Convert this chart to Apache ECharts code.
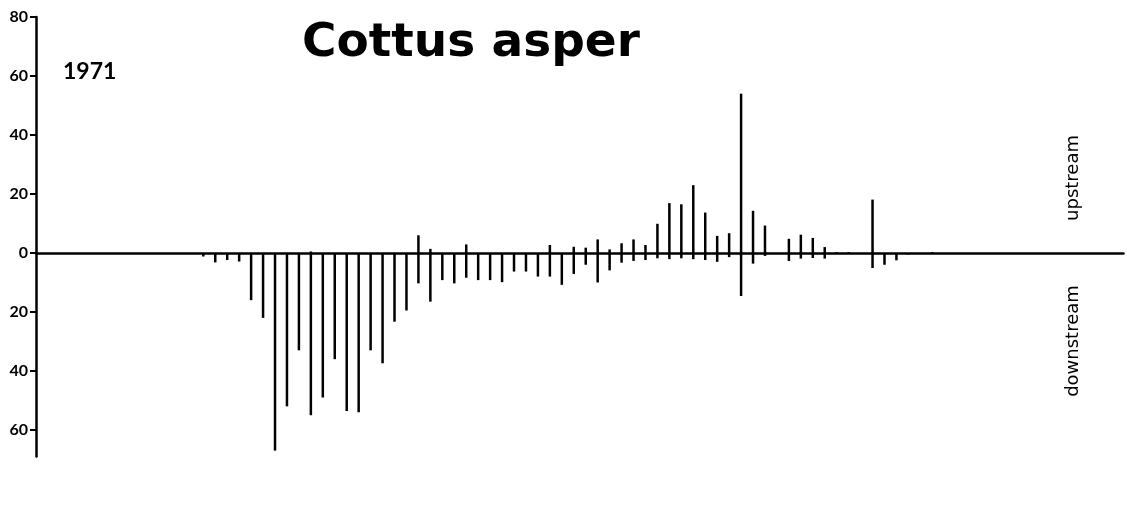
<!DOCTYPE html>
<html>
<head>
<meta charset="utf-8">
<script src="https://cdn.jsdelivr.net/npm/echarts@6/dist/echarts.min.js"></script>
<style>
html,body{margin:0;padding:0;background:#fff;}
#chart{width:1127px;height:513px;}
</style>
</head>
<body>
<div id="chart"></div>
<script>
// Station index (category) along the stream; 14 empty stations precede the first sampled one
var stations = ['1','2','3','4','5','6','7','8','9','10','11','12','13','14','15','16','17','18','19','20',
'21','22','23','24','25','26','27','28','29','30','31','32','33','34','35','36','37','38','39','40',
'41','42','43','44','45','46','47','48','49','50','51','52','53','54','55','56','57','58','59','60',
'61','62','63','64','65','66','67','68','69','70','71','72','73','74','75','76','77','78','79','80',
'81','82','83','84','85','86','87','88','89','90','91','92'];

// Upstream movement counts (positive)
var upstream = [null,null,null,null,null,null,null,null,null,null,null,null,null,null,
0,0,0,0,0,0,0,0,0,0.5,0,0,0,0,0,0,0,0,6,1.4,0,0,2.9,0,0,0,0,0,0,2.7,0,2.1,1.8,
4.6,1.2,3.3,4.6,2.7,9.9,16.9,16.5,23,13.7,5.8,6.7,54,14.3,9.3,0,4.8,6.2,5.1,2,
0.3,0.3,0,18.1,0,0,0,0,0.3,0,0,0];

// Downstream movement counts (plotted below zero)
var downstream = [null,null,null,null,null,null,null,null,null,null,null,null,null,null,
1.2,3.2,2.4,2.9,16,22,67,52,33,55,49,36,53.6,54,33,37.4,23.3,19.5,10.3,16.5,9.2,10.3,8.4,9.2,9.2,9.9,6.3,6.3,8,8,10.8,7.1,4,
10,5.9,3.3,2.7,2.4,1.8,2.1,1.8,2.1,2.4,3,1.4,14.6,3.6,1,0,2.7,1.9,1.7,1.9,
0.3,0.3,0,5.1,4,2.5,0.5,0.3,0,0.3,0,0.3];

var yTicks = [-60,-40,-20,0,20,40,60,80];

var chart = echarts.init(document.getElementById('chart'));
var fam = 'Lato, "DejaVu Sans", sans-serif';
chart.setOption({
  animation:false,
  backgroundColor:'#fff',
  grid:{left:36, right:3.5, top:17, bottom:56.5},
  title:{
    text:'Cottus asper', left:297, top:15,
    textStyle:{fontFamily:'"DejaVu Sans", sans-serif', fontWeight:'bold', fontSize:47, color:'#000'}
  },
  xAxis:{
    type:'category', data:stations, boundaryGap:false,
    axisLine:{show:true, onZero:true, lineStyle:{color:'#000', width:2.5}},
    axisTick:{show:false}, axisLabel:{show:false}, splitLine:{show:false}
  },
  yAxis:{
    type:'value', min:-69, max:80,
    axisLine:{show:true, lineStyle:{color:'#000', width:2.5}},
    axisTick:{show:true, length:6, customValues:yTicks, lineStyle:{color:'#000', width:2}},
    axisLabel:{show:true, customValues:yTicks, margin:8, formatter:function(v){return String(Math.abs(v));}, color:'#000',
      fontFamily:fam, fontWeight:'bold', fontSize:16},
    splitLine:{show:false}
  },
  series:[
    {name:'upstream', type:'bar', data:upstream, barWidth:2.5, barGap:'-100%', itemStyle:{color:'#000'}},
    {name:'downstream', type:'bar', data:downstream.map(function(v){return v==null?null:-v;}), barWidth:2.5, barGap:'-100%', itemStyle:{color:'#000'}}
  ],
  graphic:[
    {type:'text', left:63, top:60, style:{text:'1971', font:'bold 23px ' + fam, fill:'#000'}},
    {type:'text', x:1073, y:178, rotation:Math.PI/2, style:{text:'upstream', font:'18px "DejaVu Sans", sans-serif', fill:'#000', align:'center', verticalAlign:'middle'}},
    {type:'text', x:1073, y:341, rotation:Math.PI/2, style:{text:'downstream', font:'18px "DejaVu Sans", sans-serif', fill:'#000', align:'center', verticalAlign:'middle'}}
  ]
});
</script>
</body>
</html>
